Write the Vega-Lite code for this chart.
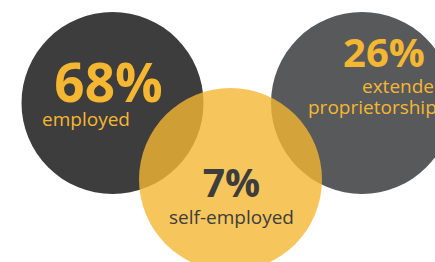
{
  "$schema": "https://vega.github.io/schema/vega-lite/v6.json",
  "width": 435,
  "height": 262,
  "padding": 0,
  "autosize": "none",
  "background": "white",
  "config": {"view": {"stroke": null}},
  "datasets": {
    "circles": [
      {"group": "employed", "x": 112.5, "y": 103},
      {"group": "extended proprietorships", "x": 362, "y": 103},
      {"group": "self-employed", "x": 230.5, "y": 179.5}
    ],
    "labels": [
      {"group": "employed", "kind": "value", "text": "68%", "x": 108.5, "y": 102},
      {"group": "employed", "kind": "label", "text": "employed", "x": 86, "y": 126},
      {"group": "self-employed", "kind": "value", "text": "7%", "x": 231.5, "y": 197},
      {"group": "self-employed", "kind": "label", "text": "self-employed", "x": 231.5, "y": 224},
      {"group": "extended proprietorships", "kind": "value", "text": "26%", "x": 384, "y": 67},
      {"group": "extended proprietorships", "kind": "label", "text": "extended", "x": 362, "y": 93},
      {"group": "extended proprietorships", "kind": "label", "text": "proprietorships", "x": 308, "y": 114}
    ]
  },
  "encoding": {
    "x": {"field": "x", "type": "quantitative", "scale": {"domain": [0, 435], "nice": false, "zero": false}, "axis": null},
    "y": {"field": "y", "type": "quantitative", "scale": {"domain": [0, 262], "nice": false, "zero": false, "reverse": true}, "axis": null}
  },
  "layer": [
    {
      "data": {"name": "circles"},
      "transform": [{"filter": "datum.group !== 'self-employed'"}],
      "mark": {"type": "point", "shape": "circle", "filled": true, "size": 33124, "opacity": 1, "strokeWidth": 0},
      "encoding": {
        "color": {"field": "group", "type": "nominal", "legend": null,
          "scale": {"domain": ["employed", "extended proprietorships", "self-employed"], "range": ["#3d3d3d", "#58595b", "#f4b633"]}}
      }
    },
    {
      "data": {"name": "circles"},
      "transform": [{"filter": "datum.group === 'self-employed'"}],
      "mark": {"type": "point", "shape": "circle", "filled": true, "size": 33489, "opacity": 0.8, "strokeWidth": 0},
      "encoding": {
        "color": {"field": "group", "type": "nominal", "legend": null,
          "scale": {"domain": ["employed", "extended proprietorships", "self-employed"], "range": ["#3d3d3d", "#58595b", "#f4b633"]}}
      }
    },
    {
      "data": {"name": "labels"},
      "transform": [{"filter": "datum.text === '68%'"}],
      "mark": {"type": "text", "font": "Open Sans", "fontWeight": "bold", "fontSize": 53, "baseline": "alphabetic", "align": "center", "color": "#f5b731"},
      "encoding": {"text": {"field": "text"}}
    },
    {
      "data": {"name": "labels"},
      "transform": [{"filter": "datum.text === '26%'"}],
      "mark": {"type": "text", "font": "Open Sans", "fontWeight": "bold", "fontSize": 40, "baseline": "alphabetic", "align": "center", "color": "#f5b731"},
      "encoding": {"text": {"field": "text"}}
    },
    {
      "data": {"name": "labels"},
      "transform": [{"filter": "datum.text === 'employed'"}],
      "mark": {"type": "text", "font": "Open Sans", "fontSize": 19, "baseline": "alphabetic", "align": "center", "color": "#f5b731"},
      "encoding": {"text": {"field": "text"}}
    },
    {
      "data": {"name": "labels"},
      "transform": [{"filter": "datum.kind === 'label' && datum.group === 'extended proprietorships'"}],
      "mark": {"type": "text", "font": "Open Sans", "fontSize": 19, "baseline": "alphabetic", "align": "left", "color": "#f5b731"},
      "encoding": {"text": {"field": "text"}}
    },
    {
      "data": {"name": "labels"},
      "transform": [{"filter": "datum.kind === 'value' && datum.group === 'self-employed'"}],
      "mark": {"type": "text", "font": "Open Sans", "fontWeight": "bold", "fontSize": 39, "baseline": "alphabetic", "align": "center", "color": "#3d3d3d"},
      "encoding": {"text": {"field": "text"}}
    },
    {
      "data": {"name": "labels"},
      "transform": [{"filter": "datum.kind === 'label' && datum.group === 'self-employed'"}],
      "mark": {"type": "text", "font": "Open Sans", "fontSize": 19, "baseline": "alphabetic", "align": "center", "color": "#3d3d3d"},
      "encoding": {"text": {"field": "text"}}
    }
  ]
}
